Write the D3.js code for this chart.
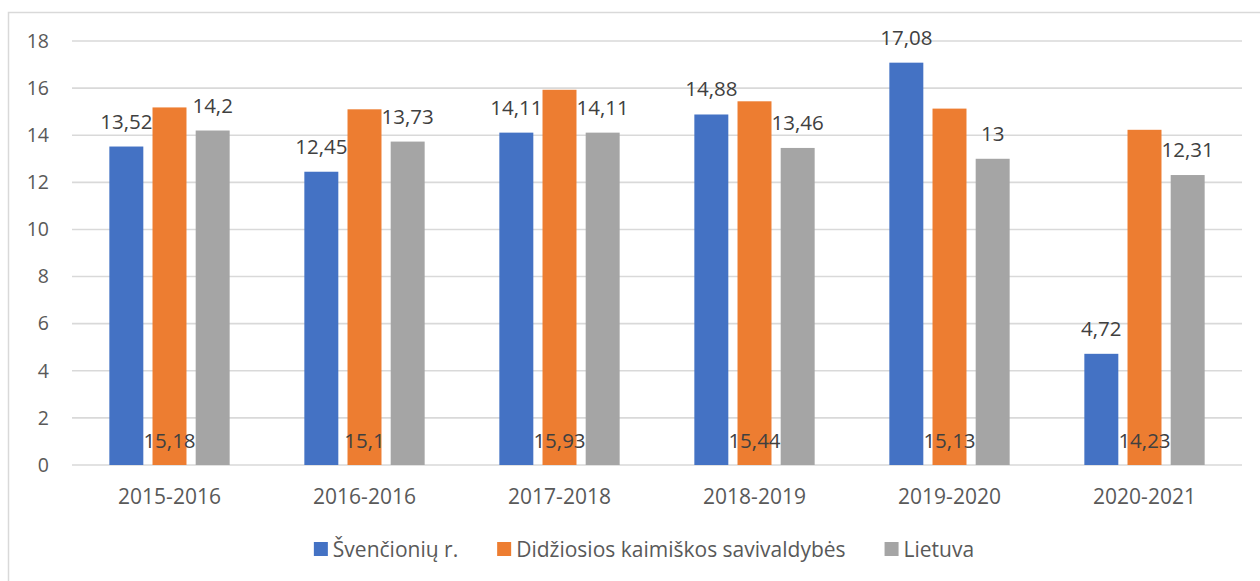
<!DOCTYPE html>
<html>
<head>
<meta charset="utf-8">
<script src="https://cdn.jsdelivr.net/npm/d3@7"></script>
<style>
  body { margin: 0; background: #fff; }
  text { font-family: "Open Sans", sans-serif; }
</style>
</head>
<body>
<div id="chart"></div>
<script>
// data
var categories = ["2015-2016", "2016-2016", "2017-2018", "2018-2019", "2019-2020", "2020-2021"];
var seriesNames = ["Švenčionių r.", "Didžiosios kaimiškos savivaldybės", "Lietuva"];
var svencionys = [13.52, 12.45, 14.11, 14.88, 17.08, 4.72];
var didziosios = [15.18, 15.1, 15.93, 15.44, 15.13, 14.23];
var lietuva = [14.2, 13.73, 14.11, 13.46, 13, 12.31];
var yTicks = [0, 2, 4, 6, 8, 10, 12, 14, 16, 18];

var colors = ["#4472C4", "#ED7D31", "#A5A5A5"];
var seriesValues = [svencionys, didziosios, lietuva];

var width = 1260, height = 581;
var plot = { left: 72, right: 1242, top: 41, bottom: 465 };

var svg = d3.select("#chart")
    .append("svg")
    .attr("width", width)
    .attr("height", height);

// chart border (runs off the right / bottom edge like the screenshot)
svg.append("rect")
    .attr("x", 8.5)
    .attr("y", 12.5)
    .attr("width", width)
    .attr("height", height)
    .attr("fill", "#fff")
    .attr("stroke", "#D9D9D9")
    .attr("stroke-width", 1.5);

var y = d3.scaleLinear()
    .domain([0, 18])
    .range([plot.bottom, plot.top]);

var x0 = d3.scaleBand()
    .domain(categories)
    .range([plot.left, plot.right])
    .paddingInner(0.383)
    .paddingOuter(0.1915);

var x1 = d3.scaleBand()
    .domain(d3.range(seriesNames.length))
    .range([0, x0.bandwidth()])
    .paddingInner(0.213);

// gridlines
svg.append("g")
    .selectAll("line")
    .data(yTicks)
    .enter().append("line")
    .attr("x1", plot.left)
    .attr("x2", plot.right)
    .attr("y1", function (d) { return y(d); })
    .attr("y2", function (d) { return y(d); })
    .attr("stroke", "#D9D9D9")
    .attr("stroke-width", 1.6);

// y axis labels
var yAxis = d3.axisLeft(y).tickValues(yTicks).tickSize(0).tickPadding(0);
var yG = svg.append("g")
    .attr("transform", "translate(49,0)")
    .call(yAxis);
yG.select(".domain").remove();
yG.selectAll("text")
    .attr("font-size", 19.5)
    .attr("fill", "#595959")
    .style("font-family", "'Open Sans', sans-serif");

// x axis labels
var xAxis = d3.axisBottom(x0).tickSize(0).tickPadding(0);
var xG = svg.append("g")
    .attr("transform", "translate(0," + plot.bottom + ")")
    .call(xAxis);
xG.select(".domain").remove();
xG.selectAll("text")
    .attr("dy", null)
    .attr("y", 38.5)
    .attr("font-size", 21)
    .attr("fill", "#595959")
    .style("font-family", "'Open Sans', sans-serif");

// flatten into one row per bar
var rows = [];
categories.forEach(function (c, i) {
    seriesValues.forEach(function (vals, s) {
        rows.push({ cat: c, s: s, v: vals[i] });
    });
});

var groups = svg.append("g");

groups.selectAll(".bar")
    .data(rows)
    .enter().append("rect")
    .attr("class", "bar")
    .attr("x", function (d) { return x0(d.cat) + x1(d.s); })
    .attr("width", x1.bandwidth())
    .attr("y", function (d) { return y(d.v); })
    .attr("height", function (d) { return y(0) - y(d.v); })
    .attr("fill", function (d) { return colors[d.s]; });

// value labels: blue + gray above the bar, orange sits down at the base
groups.selectAll(".val")
    .data(rows)
    .enter().append("text")
    .attr("class", "val")
    .attr("x", function (d) { return x0(d.cat) + x1(d.s) + x1.bandwidth() / 2; })
    .attr("y", function (d) { return d.s === 1 ? y(0) - 17 : y(d.v) - 18; })
    .attr("text-anchor", "middle")
    .attr("font-size", 20.5)
    .attr("fill", "#404040")
    .text(function (d) { return String(d.v).replace(".", ","); });

// legend, centred under the plot
var legend = svg.append("g");
var lx = 0;
seriesNames.forEach(function (name, i) {
    var item = legend.append("g").attr("transform", "translate(" + lx + ",0)");
    item.append("rect")
        .attr("x", 0)
        .attr("y", -7)
        .attr("width", 14)
        .attr("height", 14)
        .attr("fill", colors[i]);
    var t = item.append("text")
        .attr("x", 19)
        .attr("y", 7.5)
        .attr("font-size", 21)
        .attr("fill", "#595959")
        .text(name);
    lx += 19 + t.node().getComputedTextLength() + 39;
});
var legendWidth = lx - 39;
legend.attr("transform", "translate(" + (644 - legendWidth / 2) + ",549)");
</script>
</body>
</html>
